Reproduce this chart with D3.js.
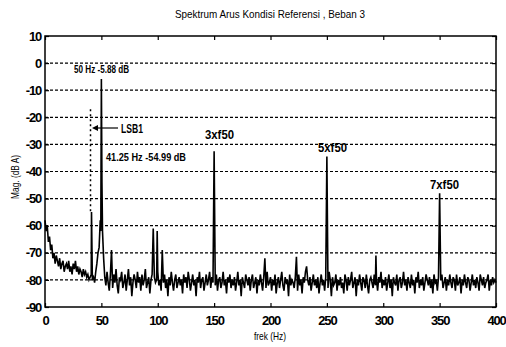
<!DOCTYPE html>
<html>
<head>
<meta charset="utf-8">
<script src="https://cdn.jsdelivr.net/npm/d3@7"></script>
<style>
  body { margin: 0; background: #fff; }
  svg text { font-family: "Liberation Sans", Arial, sans-serif; fill: #000; }
</style>
</head>
<body>
<div id="chart"></div>
<script>
// Data
const xTicks = [0, 50, 100, 150, 200, 250, 300, 350, 400];
const yTicks = [10, 0, -10, -20, -30, -40, -50, -60, -70, -80, -90];
const gridLevels = [0, -10, -20, -30, -40, -50, -60, -70, -80];

// noise floor, one value per Hz, 0..400 Hz
const noiseDb = [
  -58,-62,-60,-66,-64,-69,-67,-72,-70,-74,-71,-73,-75,-72,-76,-74,-73,-77,-75,-74,
  -76,-73,-77,-75,-78,-74,-76,-73,-77,-75,-78,-76,-77,-79,-76,-78,-77,-79,-78,-80,
  -79,-78,-80,-79,-81,-77,-74,-70,-68,-58,-60,-62,-72,-79,-82,-77,-81,-84,-78,-80,
  -83,-78,-81,-76,-82,-85,-79,-80,-77,-83,-81,-78,-84,-80,-76,-82,-79,-86,-81,-78,
  -80,-83,-77,-81,-79,-84,-78,-82,-80,-76,-83,-81,-79,-85,-80,-78,-82,-79,-81,-80,
  -77,-82,-80,-84,-79,-81,-78,-83,-80,-86,-79,-82,-77,-81,-84,-80,-78,-83,-81,-79,
  -82,-80,-85,-78,-81,-79,-83,-77,-80,-84,-81,-78,-82,-80,-86,-79,-81,-77,-83,-80,
  -79,-84,-81,-78,-82,-80,-77,-83,-79,-81,-80,-82,-78,-84,-80,-79,-83,-81,-77,-82,
  -80,-85,-79,-81,-78,-83,-80,-82,-79,-84,-81,-77,-82,-80,-86,-79,-81,-83,-78,-80,
  -82,-79,-84,-80,-78,-83,-81,-79,-85,-80,-82,-78,-81,-84,-79,-80,-83,-77,-82,-81,
  -79,-84,-80,-82,-78,-85,-81,-79,-83,-80,-77,-82,-84,-79,-81,-80,-86,-78,-82,-80,
  -81,-83,-79,-80,-84,-78,-82,-80,-85,-79,-81,-77,-83,-80,-82,-79,-84,-81,-78,-82,
  -80,-83,-79,-85,-81,-78,-82,-80,-84,-79,-81,-83,-77,-80,-86,-79,-82,-81,-78,-84,
  -80,-82,-79,-83,-81,-85,-78,-80,-84,-79,-82,-80,-77,-83,-81,-79,-86,-80,-82,-78,
  -81,-84,-79,-80,-83,-78,-82,-85,-80,-79,-81,-83,-78,-82,-80,-84,-79,-81,-77,-83,
  -80,-82,-79,-84,-81,-78,-83,-80,-86,-79,-81,-82,-78,-84,-80,-79,-83,-81,-77,-82,
  -80,-84,-79,-81,-83,-78,-82,-80,-85,-79,-81,-77,-83,-80,-82,-79,-84,-81,-78,-80,
  -82,-79,-83,-80,-85,-78,-81,-80,-84,-79,-82,-80,-78,-83,-81,-79,-84,-80,-82,-78,
  -81,-83,-79,-80,-84,-78,-82,-81,-79,-85,-80,-82,-78,-81,-83,-79,-80,-84,-81,-78,
  -82,-80,-83,-79,-81,-84,-78,-80,-82,-79,-83,-81,-80,-78,-84,-80,-82,-79,-81,-80,
  -81
];

// spectral peaks
const peakFreq = [41.25, 49.5, 50, 50.5, 59, 96, 99.5, 104, 150, 195, 223, 232, 250, 293.5, 350];
const peakDb   = [-54.99, -62, -5.88, -44, -69, -61, -62, -69, -32.5, -72, -71.5, -75, -34.5, -71, -48];

// annotations
const notes = [
  { text: "50 Hz -5.88 dB", x: 74, y: 73, w: 55, size: 11 },
  { text: "41.25 Hz -54.99 dB", x: 106, y: 161, w: 80, size: 11 },
  { text: "3xf50", x: 205, y: 139, w: 29, size: 12 },
  { text: "5xf50", x: 318, y: 152, w: 29, size: 12 },
  { text: "7xf50", x: 430, y: 189, w: 29, size: 12 }
];

const width = 506, height = 347;
const margin = { top: 36, right: 10, bottom: 40, left: 45 };

const svg = d3.select("#chart").append("svg")
  .attr("width", width)
  .attr("height", height);

const x = d3.scaleLinear().domain([0, 400]).range([margin.left, width - margin.right]);
const y = d3.scaleLinear().domain([-90, 10]).range([height - margin.bottom, margin.top]);

// build series: noise with peaks placed in
let pts = noiseDb.map((v, i) => ({ f: i, db: v }))
  .filter(p => !peakFreq.some(pf => Math.abs(pf - p.f) < 0.01));
peakFreq.forEach((pf, i) => pts.push({ f: pf, db: peakDb[i] }));
pts.sort((a, b) => a.f - b.f);

// title
svg.append("text")
  .attr("x", 175).attr("y", 18)
  .attr("textLength", 190)
  .attr("lengthAdjust", "spacingAndGlyphs")
  .style("font-size", "11px")
  .text("Spektrum Arus Kondisi Referensi , Beban 3");

// grid
svg.append("g").selectAll("line")
  .data(gridLevels)
  .enter().append("line")
  .attr("x1", x(0)).attr("x2", x(400))
  .attr("y1", d => y(d)).attr("y2", d => y(d))
  .attr("stroke", "#000")
  .attr("stroke-width", 1.2)
  .attr("stroke-dasharray", "3,2");

// LSB marker line
svg.append("line")
  .attr("x1", x(41.25) - 1).attr("x2", x(41.25) - 1)
  .attr("y1", y(-17)).attr("y2", y(-55))
  .attr("stroke", "#000")
  .attr("stroke-width", 1.5)
  .attr("stroke-dasharray", "2,3");

// spectrum
const line = d3.line().x(d => x(d.f)).y(d => y(d.db));
svg.append("path")
  .datum(pts)
  .attr("fill", "none")
  .attr("stroke", "#000")
  .attr("stroke-width", 1.6)
  .attr("d", line);

// frame
svg.append("rect")
  .attr("x", x(0)).attr("y", y(10))
  .attr("width", x(400) - x(0))
  .attr("height", y(-90) - y(10))
  .attr("fill", "none")
  .attr("stroke", "#000")
  .attr("stroke-width", 1.5);

// axes
const fmt = d => String(d);
svg.append("g")
  .attr("transform", `translate(0,${y(-90)})`)
  .call(d3.axisBottom(x).tickValues(xTicks).tickSize(-4).tickPadding(9).tickFormat(fmt))
  .call(g => g.select(".domain").remove());
svg.append("g")
  .attr("transform", `translate(0,${y(10)})`)
  .call(d3.axisTop(x).tickValues(xTicks).tickSize(-4).tickFormat(""))
  .call(g => g.select(".domain").remove());
svg.append("g")
  .attr("transform", `translate(${x(0)},0)`)
  .call(d3.axisLeft(y).tickValues(yTicks).tickSize(-4).tickPadding(4).tickFormat(fmt))
  .call(g => g.select(".domain").remove());
svg.append("g")
  .attr("transform", `translate(${x(400)},0)`)
  .call(d3.axisRight(y).tickValues(yTicks).tickSize(-4).tickFormat(""))
  .call(g => g.select(".domain").remove());

svg.selectAll(".tick line").attr("stroke", "#000").attr("stroke-width", 1.2);
svg.selectAll(".tick text")
  .style("font-size", "13px")
  .style("font-weight", "bold")
  .style("letter-spacing", "-1.2px")
  .style("font-family", "'Liberation Sans', Arial, sans-serif");

// axis labels
svg.append("text")
  .attr("x", 270).attr("y", 340)
  .attr("text-anchor", "middle")
  .attr("textLength", 32)
  .attr("lengthAdjust", "spacingAndGlyphs")
  .style("font-size", "11px")
  .text("frek (Hz)");
svg.append("text")
  .attr("transform", `translate(19,${y(-42)}) rotate(-90)`)
  .attr("text-anchor", "middle")
  .attr("textLength", 44)
  .attr("lengthAdjust", "spacingAndGlyphs")
  .style("font-size", "11px")
  .text("Mag. (dB A)");

// annotations
svg.append("g").selectAll("text")
  .data(notes)
  .enter().append("text")
  .attr("x", d => d.x).attr("y", d => d.y)
  .attr("textLength", d => d.w)
  .attr("lengthAdjust", "spacingAndGlyphs")
  .style("font-size", d => d.size + "px")
  .style("font-weight", "bold")
  .text(d => d.text);

// LSB1 label with arrow
svg.append("text")
  .attr("x", 121).attr("y", 133)
  .attr("textLength", 22)
  .attr("lengthAdjust", "spacingAndGlyphs")
  .style("font-size", "12px")
  .style("font-weight", "bold")
  .text("LSB1");
svg.append("line")
  .attr("x1", 118).attr("x2", 94)
  .attr("y1", 128).attr("y2", 128)
  .attr("stroke", "#000").attr("stroke-width", 1.2);
svg.append("path")
  .attr("d", `M92,128 l6,-3 l0,6 z`)
  .attr("fill", "#000");
</script>
</body>
</html>
